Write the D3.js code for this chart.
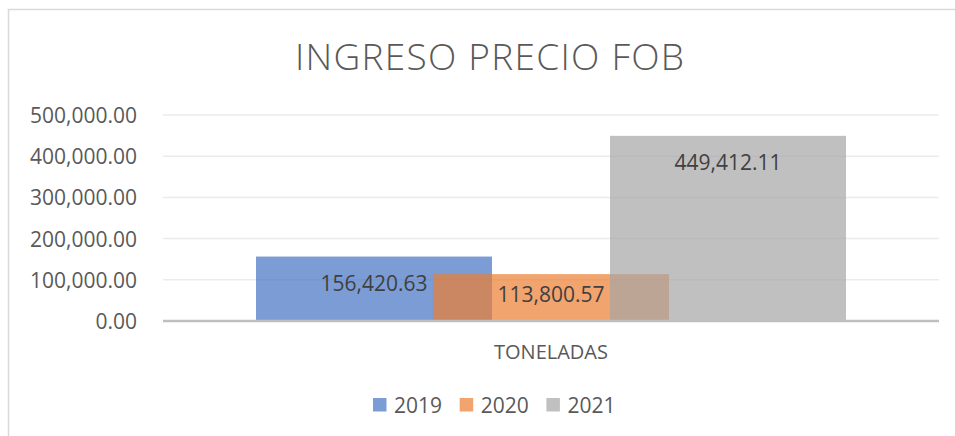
<!DOCTYPE html>
<html>
<head>
<meta charset="utf-8">
<script src="https://cdn.jsdelivr.net/npm/d3@7"></script>
<style>
    body { margin: 0; background: #fff; }
    svg { display: block; font-family: "Open Sans", sans-serif; }
</style>
</head>
<body>
<svg id="chart" width="955" height="436"></svg>
<script>
const title = "INGRESO PRECIO FOB";
const categories = ["TONELADAS"];
const seriesNames = ["2019", "2020", "2021"];
const seriesValues = [156420.63, 113800.57, 449412.11];
const seriesColors = ["#4472C4", "#ED7D31", "#A5A5A5"];
const yTicks = [0, 100000, 200000, 300000, 400000, 500000];

const width = 955;
const height = 436;

const plotLeft = 163;
const plotRight = 939;
const plotTop = 115;
const plotBottom = 321;
const overlap = 0.25;

const svg = d3.select("#chart");

const translate = (x, y) => "translate(" + x + "," + y + ")";
const fmt = d3.format(",.2f");

// chart border, only the top and left edges fall inside the picture
svg.append("rect")
    .attr("x", 8.5)
    .attr("y", 9.5)
    .attr("width", width + 20)
    .attr("height", height + 20)
    .attr("fill", "#fff")
    .attr("stroke", "#D9D9D9")
    .attr("stroke-width", 1.5);

svg.append("text")
    .attr("x", 489.5)
    .attr("y", 70)
    .attr("text-anchor", "middle")
    .attr("textLength", 389)
    .attr("lengthAdjust", "spacing")
    .attr("fill", "#595959")
    .style("font-size", "37px")
    .style("font-weight", 300)
    .text(title);

const x0 = d3.scaleBand()
    .domain(categories)
    .range([plotLeft, plotRight])
    .paddingOuter(0.1576)
    .paddingInner(0);

const yScale = d3.scaleLinear()
    .domain([0, 500000])
    .range([plotBottom, plotTop]);

// gridlines
const gridG = svg.append("g").attr("class", "grid");
gridG.selectAll("line")
    .data(yTicks.filter(d => d > 0))
    .enter()
    .append("line")
    .attr("x1", plotLeft)
    .attr("x2", plotRight)
    .attr("y1", d => yScale(d))
    .attr("y2", d => yScale(d))
    .attr("stroke", "#EBEBEB")
    .attr("stroke-width", 1.5);

// y axis labels
const yAxis = d3.axisLeft(yScale).tickValues(yTicks).tickFormat(fmt).tickSize(0).tickPadding(0);
svg.append("g")
    .attr("transform", translate(137, 0))
    .call(yAxis)
    .call(g => g.select(".domain").remove())
    .selectAll("text")
    .attr("fill", "#595959")
    .attr("dy", "0.36em")
    .style("font-size", "21px")
    .style("font-family", "'Open Sans', sans-serif");

// bars, overlapped like the original
const n = seriesNames.length;
const barWidth = x0.bandwidth() / (1 + (n - 1) * (1 - overlap));
const barStep = barWidth * (1 - overlap);

const bars = seriesNames.map((name, i) => ({
    name: name,
    value: seriesValues[i],
    color: seriesColors[i],
    x: x0(categories[0]) + i * barStep
}));

svg.append("g").attr("class", "bars")
    .selectAll("rect")
    .data(bars)
    .enter()
    .append("rect")
    .attr("x", d => d.x)
    .attr("y", d => yScale(d.value))
    .attr("width", barWidth)
    .attr("height", d => yScale(0) - yScale(d.value))
    .attr("fill", d => d.color)
    .attr("fill-opacity", 0.7);

// baseline
svg.append("line")
    .attr("x1", plotLeft)
    .attr("x2", plotRight)
    .attr("y1", yScale(0))
    .attr("y2", yScale(0))
    .attr("stroke", "#BFBFBF")
    .attr("stroke-width", 2.5);

// data labels, inside end
svg.append("g").attr("class", "labels")
    .selectAll("text")
    .data(bars)
    .enter()
    .append("text")
    .attr("x", d => d.x + barWidth / 2)
    .attr("y", d => Math.min(yScale(d.value) + 27, yScale(0) - 26.5))
    .attr("dy", "0.36em")
    .attr("text-anchor", "middle")
    .attr("fill", "#404040")
    .style("font-size", "21px")
    .text(d => fmt(d.value));

// category label
svg.append("text")
    .attr("x", x0(categories[0]) + x0.bandwidth() / 2)
    .attr("y", 359)
    .attr("text-anchor", "middle")
    .attr("fill", "#595959")
    .style("font-size", "20px")
    .text(categories[0]);

// legend
const legend = svg.append("g").attr("class", "legend")
    .selectAll("g")
    .data(bars)
    .enter()
    .append("g")
    .attr("transform", (d, i) => translate(373 + i * 86.7, 398));

legend.append("rect")
    .attr("width", 13.5)
    .attr("height", 13.5)
    .attr("fill", d => d.color)
    .attr("fill-opacity", 0.7);

legend.append("text")
    .attr("x", 21)
    .attr("y", 14.5)
    .attr("fill", "#595959")
    .style("font-size", "21px")
    .text(d => d.name);
</script>
</body>
</html>
